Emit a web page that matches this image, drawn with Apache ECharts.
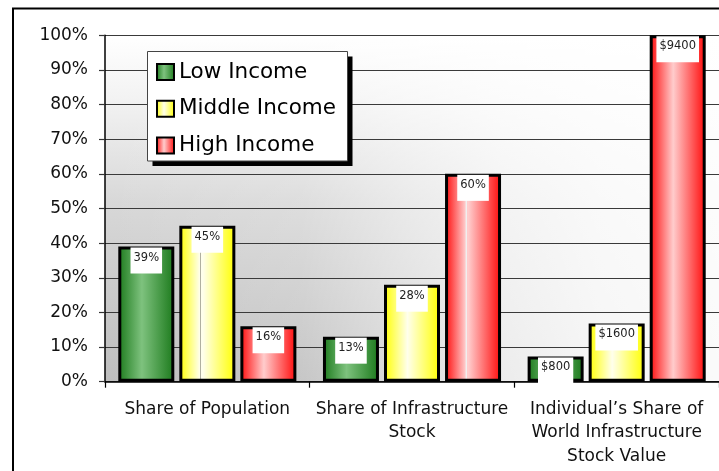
<!DOCTYPE html>
<html>
<head>
<meta charset="utf-8">
<script src="https://cdn.jsdelivr.net/npm/echarts@6/dist/echarts.min.js"></script>
<style>
html,body{margin:0;padding:0;background:#fff;}
#chart{width:719px;height:471px;}
</style>
</head>
<body>
<div id="chart"></div>
<script>
var categories = ['Share of Population', 'Share of Infrastructure\nStock', 'Individual\u2019s Share of\nWorld Infrastructure\nStock Value'];
var seriesNames = ['Low Income', 'Middle Income', 'High Income'];
var lowIncome = [39, 13, 7.3];
var middleIncome = [45, 28, 16.8];
var highIncome = [16, 60, 100];
var lowLabels = ['39%', '13%', '$800'];
var middleLabels = ['45%', '28%', '$1600'];
var highLabels = ['16%', '60%', '$9400'];
var yTicks = [0, 100, 10];

var FONT = 'DejaVu Sans';
var PLOT = {left: 105, top: 35.3, width: 616, height: 346.4};

function grad(edge, center, line) {
  var stops = [{offset: 0, color: edge}];
  if (line) {
    stops.push({offset: 0.365, color: center});
    stops.push({offset: 0.366, color: line});
    stops.push({offset: 0.384, color: line});
    stops.push({offset: 0.385, color: center});
  }
  stops.push({offset: 0.42, color: center});
  stops.push({offset: 1, color: edge});
  return {type: 'linear', x: 0, y: 0, x2: 1, y2: 0, colorStops: stops};
}

function mkSeries(name, data, labels, fill, specials) {
  return {
    name: name,
    type: 'bar',
    data: data.map(function (v, i) {
      if (specials && specials[i]) return {value: v, itemStyle: {color: specials[i]}};
      return v;
    }),
    barWidth: 56,
    barGap: '9%',
    itemStyle: {color: fill, borderColor: '#000', borderWidth: 3},
    label: {
      show: true,
      position: 'insideTop',
      distance: 1,
      formatter: function (p) { return labels[p.dataIndex]; },
      backgroundColor: '#fff',
      padding: [3, 3, 9, 3],
      fontSize: 11.5,
      lineHeight: 14,
      color: '#222',
      fontFamily: FONT
    },
    emphasis: {disabled: true}
  };
}

var chart = echarts.init(document.getElementById('chart'), null, {renderer: 'canvas'});
chart.setOption({
  animation: false,
  backgroundColor: '#fff',
  graphic: [
    {
      type: 'rect', z: -20,
      shape: {x: PLOT.left, y: PLOT.top, width: PLOT.width, height: PLOT.height},
      style: {fill: {type: 'linear', x: 0, y: 0, x2: 0, y2: 1, colorStops: [
        {offset: 0, color: '#ffffff'},
        {offset: 0.19, color: '#f2f2f2'},
        {offset: 0.48, color: '#d8d8d8'},
        {offset: 1, color: '#bdbdbd'}
      ]}}
    },
    {
      type: 'rect', z: -19,
      shape: {x: PLOT.left, y: PLOT.top, width: PLOT.width, height: PLOT.height},
      style: {fill: {type: 'linear', x: 0, y: 0, x2: 1, y2: 0, colorStops: [
        {offset: 0, color: 'rgba(255,255,255,0)'},
        {offset: 0.32, color: 'rgba(255,255,255,0.15)'},
        {offset: 0.48, color: 'rgba(255,255,255,0.45)'},
        {offset: 0.64, color: 'rgba(255,255,255,0.71)'},
        {offset: 0.8, color: 'rgba(255,255,255,0.85)'},
        {offset: 1, color: 'rgba(255,255,255,0.93)'}
      ]}}
    },
    {
      type: 'rect', z: 3,
      shape: {x: 152.5, y: 56.5, width: 200, height: 109.5},
      style: {fill: '#000'}
    },
    {
      type: 'rect', z: 3,
      shape: {x: 147.5, y: 51.5, width: 200, height: 109.5},
      style: {fill: '#fff', stroke: '#444', lineWidth: 1}
    },
    {
      type: 'rect', z: 100,
      shape: {x: 13, y: 8.5, width: 760, height: 520},
      style: {fill: 'none', stroke: '#000', lineWidth: 2}
    }
  ],
  grid: {
    left: PLOT.left, top: PLOT.top, width: PLOT.width, height: PLOT.height,
    show: false
  },
  legend: {
    orient: 'vertical',
    left: 147, top: 51,
    z: 5,
    icon: 'rect',
    itemWidth: 17, itemHeight: 16,
    itemGap: 12.7,
    padding: [9, 12, 4, 9],
    itemStyle: {borderColor: '#000', borderWidth: 2},
    textStyle: {fontFamily: FONT, fontSize: 21.5, lineHeight: 24, color: '#000'},
    selectedMode: false,
    data: seriesNames
  },
  xAxis: {
    type: 'category',
    data: categories,
    axisLine: {lineStyle: {color: '#000', width: 1.5}},
    axisTick: {show: true, length: 6, lineStyle: {color: '#000', width: 1.2}},
    axisLabel: {fontFamily: FONT, fontSize: 17, lineHeight: 23.5, color: '#111', margin: 16, interval: 0},
    splitLine: {show: false}
  },
  yAxis: {
    type: 'value',
    min: yTicks[0], max: yTicks[1], interval: yTicks[2],
    axisLine: {show: true, lineStyle: {color: '#000', width: 1.5}},
    axisTick: {show: true, length: 6, lineStyle: {color: '#333', width: 1.2}},
    axisLabel: {fontFamily: FONT, fontSize: 17, color: '#111', margin: 17, formatter: '{value}%'},
    splitLine: {show: true, lineStyle: {color: '#3a3a3a', width: 1.2}}
  },
  series: [
    mkSeries(seriesNames[0], lowIncome, lowLabels, grad('#1c7a1c', '#7ec27e')),
    mkSeries(seriesNames[1], middleIncome, middleLabels, grad('#ffff00', '#ffffec'),
      [grad('#ffff00', '#ffffec', '#b0b0a0'), null, null]),
    mkSeries(seriesNames[2], highIncome, highLabels, grad('#ff0a0a', '#ffcccc'),
      [null, grad('#ff0a0a', '#ffcccc', '#f0f0f0'), null])
  ]
});
</script>
</body>
</html>
